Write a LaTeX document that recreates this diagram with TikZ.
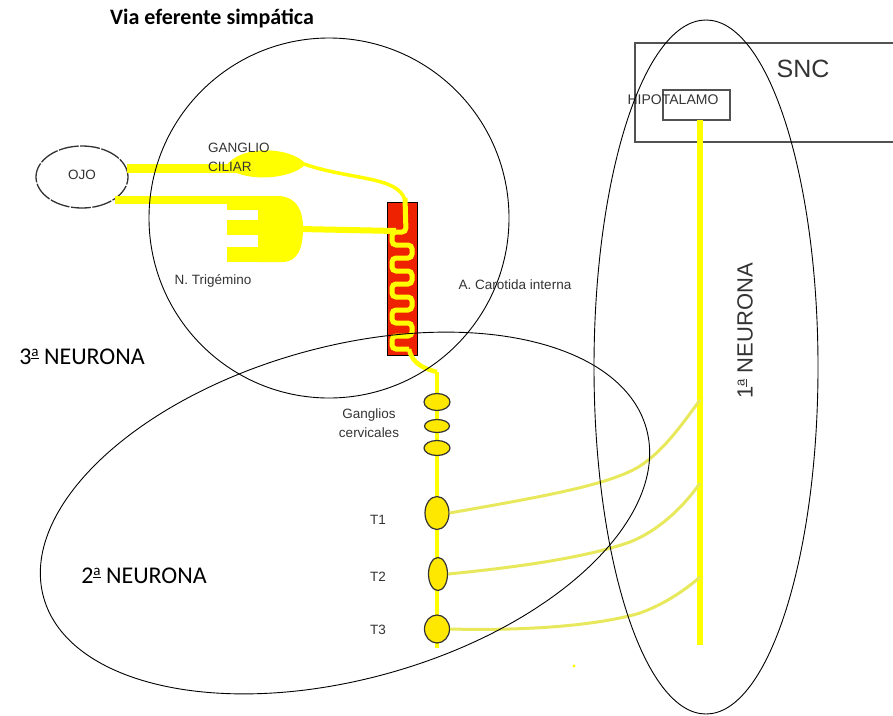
\documentclass[tikz,border=0pt]{standalone}
\usepackage{fontspec}
\setmainfont{Liberation Sans}
\newfontfamily\calib{Carlito}
\usetikzlibrary{shapes.geometric}
\definecolor{nerve}{HTML}{FFFF00}
\definecolor{branchy}{HTML}{E8E85C}
\definecolor{gangl}{HTML}{FFE800}
\definecolor{ink}{HTML}{333333}
\definecolor{artery}{HTML}{EE2200}
% feminine ordinal indicator with its underline bar
\newcommand\ordfem[1]{\raisebox{0.36em}{\fontsize{#1}{#1}\selectfont\underline{a}}}
\begin{document}
\begin{tikzpicture}[x=1pt,y=-1pt,
  lbl/.style={font=\fontsize{13.5}{15}\selectfont, text=ink, inner sep=0pt},
  neurlbl/.style={font=\calib\fontsize{24}{26}\selectfont, text=black, inner sep=0pt},
  contour/.style={draw=black, line width=0.9pt},
  box/.style={draw=ink!85, line width=1.4pt},
  gang/.style={ellipse, draw=ink, fill=gangl, line width=1.2pt, inner sep=0pt},
  axon/.style={draw=nerve, line width=#1},
  branch/.style={draw=branchy, line width=3pt},
]
\useasboundingbox (0,0) rectangle (893,715);

% title
\node[font=\calib\bfseries\fontsize{22}{24}\selectfont, inner sep=0pt] (title) at (212,18) {Via eferente simpática};

% central nervous system and hypothalamus
\draw[box] (893,43) -- (635,43) -- (635,142) -- (893,142);
\node[font=\fontsize{25}{27}\selectfont, text=ink, inner sep=0pt] (snc) at (803,69) {SNC};
\draw[box, line width=1.2pt] (663,90) rectangle (730,120);
\node[font=\fontsize{14}{15}\selectfont, text=ink, inner sep=0pt] (hipo) at (673,100) {HIPOTALAMO};

% first neuron: descending pathway
\coordinate (hypOut) at (700,120);
\coordinate (cordEnd) at (700,645);
\coordinate (j1) at (700,400);
\coordinate (j2) at (700,483);
\coordinate (j3) at (700,577);
\draw[axon=6pt, line cap=butt] (hypOut) -- (cordEnd);

% eye
\node[ellipse, draw=ink, line width=1.3pt, dash pattern=on 20pt off 1.5pt,
      minimum width=92pt, minimum height=62pt, inner sep=0pt] (ojo) at (82,177) {};
\node[lbl] at (82,175) {OJO};

% ciliary ganglion and its fibres
\draw[axon=9pt] (ojo.east |- 0,168) ++(-2,0) -- (240,168);
\fill[nerve] (226,166) .. controls (240,145) and (290,146) .. (306,164)
             .. controls (290,181) and (240,182) .. cycle;
\node[lbl, anchor=west] (gc1) at (208,148) {GANGLIO};
\node[lbl, anchor=west] (gc2) at (208,167) {CILIAR};

% trigeminal nerve
\fill[nerve] (115,196) rectangle (275,204);
\fill[nerve] (227,196) rectangle (265,210);
\fill[nerve] (227,220) rectangle (265,235);
\fill[nerve] (227,247) rectangle (285,262);
\fill[nerve] (258,196) -- (280,196) .. controls (298,198) and (303,212) .. (303,228)
             .. controls (303,248) and (298,262) .. (282,262) -- (258,262) -- cycle;
\node[lbl] (trig) at (213,281) {N. Trigémino};

% internal carotid artery
\filldraw[fill=artery, draw=black, line width=0.8pt] (387,202) rectangle (417,355);
\node[lbl] (carot) at (515,285) {A. Carotida interna};
\draw[axon=6pt] (300,229) -- (396,231);
\draw[axon=3.5pt] (304,164) .. controls (350,180) and (398,176) .. (405,200);
\draw[axon=5pt, rounded corners=4pt]
  (405,198) -- (406,232) -- (392,232) -- (392,245) -- (412,245) -- (412,258)
  -- (392,258) -- (392,271) -- (412,271) -- (412,284) -- (392,284) -- (392,297)
  -- (412,297) -- (412,310) -- (392,310) -- (392,323) -- (412,323) -- (412,336)
  -- (392,336) -- (392,349) -- (409,349);
\coordinate (colTop) at (437,372);
\coordinate (colEnd) at (437,648);
\draw[axon=4.5pt] (409,349) .. controls (412,364) and (425,369) .. (colTop);
\draw[axon=4pt] (colTop) -- (colEnd);

% paravertebral ganglia
\node[gang, minimum width=26pt, minimum height=17pt] (gc1n) at (437,402) {};
\node[gang, minimum width=25pt, minimum height=13pt] (gc2n) at (437,426) {};
\node[gang, minimum width=26pt, minimum height=15pt] (gc3n) at (437,448) {};
\node[gang, minimum width=24pt, minimum height=33pt] (t1) at (437,513) {};
\node[gang, minimum width=19pt, minimum height=33pt] (t2) at (438,574) {};
\node[gang, minimum width=25pt, minimum height=28pt] (t3) at (437,629) {};
\node[lbl] at (369,415) {Ganglios};
\node[lbl] at (369,433) {cervicales};
\node[lbl] at (378,520) {T1};
\node[lbl] at (378,577) {T2};
\node[lbl] at (378,630) {T3};

% preganglionic branches
\draw[branch] (t1.east) .. controls (540,497) and (610,485) .. (640,466)
  .. controls (665,450) and (685,420) .. (j1);
\draw[branch] (t2.east) .. controls (530,566) and (590,556) .. (630,542)
  .. controls (660,530) and (685,505) .. (j2);
\draw[branch] (t3.east) .. controls (530,631) and (600,625) .. (640,613)
  .. controls (665,604) and (685,590) .. (j3);
\fill[nerve] (574,666) circle[radius=1.6pt];

% neuron territories
\draw[contour] (329,218) circle[radius=180pt];
\draw[contour, rotate around={15.7:(345,513)}] (345,513) ellipse[x radius=313pt, y radius=166pt];
\draw[contour] (706,367) ellipse[x radius=112pt, y radius=347pt];

\node[neurlbl] (n3) at (82,357) {3\ordfem{15} NEURONA};
\node[neurlbl] (n2) at (144,576) {2\ordfem{15} NEURONA};
\node[font=\fontsize{22}{24}\selectfont, text=ink, inner sep=0pt, rotate=90] (n1) at (745,331) {1\ordfem{13} NEURONA};
\end{tikzpicture}
\end{document}
